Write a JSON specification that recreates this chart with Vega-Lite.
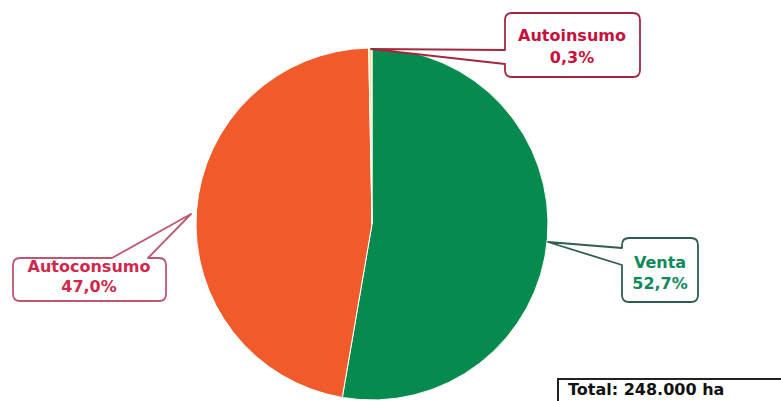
{
  "$schema": "https://vega.github.io/schema/vega-lite/v6.json",
  "autosize": {"type": "none"},
  "width": 744,
  "height": 354,
  "padding": {"left": 0, "top": 47, "right": 37, "bottom": 0},
  "background": "white",
  "config": {"view": {"stroke": null}},
  "data": {"values": [
    {"categoria": "Venta", "porcentaje": 52.7, "etiqueta": "Venta\n52,7%"},
    {"categoria": "Autoconsumo", "porcentaje": 47.0, "etiqueta": "Autoconsumo\n47,0%"},
    {"categoria": "Autoinsumo", "porcentaje": 0.3, "etiqueta": "Autoinsumo\n0,3%"}
  ]},
  "layer": [
    {
      "mark": {"type": "arc", "outerRadius": 176, "stroke": "white", "strokeWidth": 1},
      "encoding": {
        "theta": {"field": "porcentaje", "type": "quantitative", "stack": true},
        "order": {"field": "porcentaje", "sort": "descending"},
        "color": {"field": "categoria", "type": "nominal", "legend": null,
          "scale": {"domain": ["Venta", "Autoconsumo", "Autoinsumo"], "range": ["#078a4e", "#f15a2b", "#f3e6a6"]}}
      }
    },
    {
      "mark": {"type": "point", "filled": true, "fill": "white", "size": 4, "strokeWidth": 1.8, "opacity": 1, "strokeJoin": "round"},
      "encoding": {
        "shape": {"field": "categoria", "type": "nominal", "legend": null,
          "scale": {"domain": ["Venta", "Autoconsumo", "Autoinsumo"], "range": [
            "M257,14L319,14Q326,14 326,21L326,71Q326,78 319,78L257,78Q250,78 250,71L250,41L176,18L250,24L250,21Q250,14 257,14Z",
            "M-352,34L-260,34L-181,-10L-224,34L-213,34Q-206,34 -206,41L-206,70Q-206,77 -213,77L-352,77Q-359,77 -359,70L-359,41Q-359,34 -352,34Z",
            "M140,-211L261,-211Q268,-211 268,-204L268,-154Q268,-147 261,-147L140,-147Q133,-147 133,-154L133,-160L-1,-175L133,-174L133,-204Q133,-211 140,-211Z"
          ]}},
        "stroke": {"field": "categoria", "type": "nominal", "legend": null,
          "scale": {"domain": ["Venta", "Autoconsumo", "Autoinsumo"], "range": ["#2f5f4c", "#c0566e", "#a3283e"]}}
      }
    },
    {
      "transform": [{"filter": "datum.categoria === 'Venta'"}],
      "mark": {"type": "text", "lineBreak": "\n", "font": "DejaVu Sans", "fontWeight": "bold", "fontSize": 16, "lineHeight": 21, "align": "center", "baseline": "middle", "dx": 288, "dy": 39, "color": "#0e8a5a"},
      "encoding": {"text": {"field": "etiqueta"}}
    },
    {
      "transform": [{"filter": "datum.categoria === 'Autoconsumo'"}],
      "mark": {"type": "text", "lineBreak": "\n", "font": "DejaVu Sans", "fontWeight": "bold", "fontSize": 16, "lineHeight": 20, "align": "center", "baseline": "middle", "dx": -283, "dy": 43, "color": "#d0284c"},
      "encoding": {"text": {"field": "etiqueta"}}
    },
    {
      "transform": [{"filter": "datum.categoria === 'Autoinsumo'"}],
      "mark": {"type": "text", "lineBreak": "\n", "font": "DejaVu Sans", "fontWeight": "bold", "fontSize": 16, "lineHeight": 22, "align": "center", "baseline": "middle", "dx": 200, "dy": -188, "color": "#c8103c"},
      "encoding": {"text": {"field": "etiqueta"}}
    },
    {
      "data": {"values": [{"texto": "Total: 248.000 ha"}]},
      "layer": [
        {
          "mark": {"type": "point", "filled": true, "fill": "white", "stroke": "#222222", "size": 4, "strokeWidth": 2, "opacity": 1,
            "shape": "M186,155L430,155L430,210L186,210Z"},
          "encoding": {}
        },
        {
          "mark": {"type": "text", "font": "DejaVu Sans", "fontWeight": "bold", "fontSize": 16, "align": "left", "baseline": "middle", "dx": 196, "dy": 166, "color": "#111111"},
          "encoding": {"text": {"field": "texto"}}
        }
      ]
    }
  ]
}
